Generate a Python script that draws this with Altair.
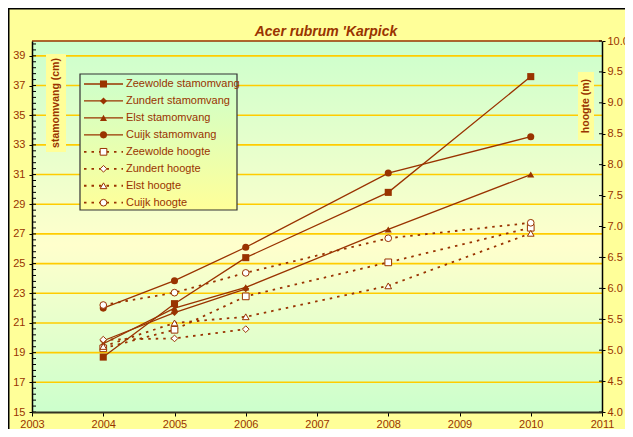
import altair as alt
import pandas as pd
import numpy as np

BROWN = "#993300"
FONT = "Liberation Sans"
W, H = 570, 371

title_text = "Acer rubrum 'Karpick"
sites = ["Zeewolde", "Zundert", "Elst", "Cuijk"]
site_shapes = ["square", "diamond", "triangle-up", "circle"]

zeewolde_years = [2004, 2005, 2006, 2008, 2010]
zeewolde_stam = [18.7, 22.3, 25.4, 29.8, 37.6]
zeewolde_hoogte = [5.03, 5.33, 5.87, 6.42, 6.98]

zundert_years = [2004, 2005, 2006]
zundert_stam = [19.8, 21.7, 23.3]
zundert_hoogte = [5.17, 5.19, 5.34]

elst_years = [2004, 2005, 2006, 2008, 2010]
elst_stam = [19.6, 22.0, 23.4, 27.3, 31.0]
elst_hoogte = [5.06, 5.44, 5.54, 6.04, 6.89]

cuijk_years = [2004, 2005, 2006, 2008, 2010]
cuijk_stam = [22.0, 23.85, 26.1, 31.1, 33.55]
cuijk_hoogte = [5.73, 5.93, 6.25, 6.81, 7.06]

x_ticks = [2003, 2004, 2005, 2006, 2007, 2008, 2009, 2010, 2011]
left_ticks = [15, 17, 19, 21, 23, 25, 27, 29, 31, 33, 35, 37, 39]
grid_values = [17, 19, 21, 23, 25, 27, 29, 31, 33, 35, 37, 39]
left_minor = [round(v, 1) for v in np.arange(15.0, 40.01, 0.4)]
right_ticks = [4.0, 4.5, 5.0, 5.5, 6.0, 6.5, 7.0, 7.5, 8.0, 8.5, 9.0, 9.5, 10.0]

legend_labels = ["Zeewolde stamomvang", "Zundert stamomvang", "Elst stamomvang", "Cuijk stamomvang",
                 "Zeewolde hoogte", "Zundert hoogte", "Elst hoogte", "Cuijk hoogte"]
legend_sites = sites + sites
legend_kind = ["stam"] * 4 + ["hoogte"] * 4

stam_rows, hoog_rows = [], []
for s, yrs, st, ho in [("Zeewolde", zeewolde_years, zeewolde_stam, zeewolde_hoogte),
                       ("Zundert", zundert_years, zundert_stam, zundert_hoogte),
                       ("Elst", elst_years, elst_stam, elst_hoogte),
                       ("Cuijk", cuijk_years, cuijk_stam, cuijk_hoogte)]:
    for y, a, b in zip(yrs, st, ho):
        stam_rows.append({"site": s, "year": y, "value": a})
        hoog_rows.append({"site": s, "year": y, "value": b})
stam_df = pd.DataFrame(stam_rows)
hoog_df = pd.DataFrame(hoog_rows)
legend_df = pd.DataFrame({"label": legend_labels, "site": legend_sites, "kind": legend_kind,
                          "row": list(range(8))})
one = pd.DataFrame({"a": [0]})

x_scale = alt.Scale(domain=[2003, 2011], nice=False, zero=False)
left_scale = alt.Scale(domain=[15, 40], nice=False, zero=False)
right_scale = alt.Scale(domain=[4, 10], nice=False, zero=False)
shape_scale = alt.Scale(domain=sites, range=site_shapes)
legend_scale = alt.Scale(domain=[0, 7], range=[43, 161.7])

common_axis = dict(labelFont=FONT, labelFontSize=11, labelColor=BROWN, tickColor="black",
                   domainColor="black", domainWidth=1.5, grid=False, title=None, zindex=1,
                   labelFlush=False)
x_axis = alt.Axis(values=x_ticks, format="d", tickSize=4, labelPadding=2,
                  **{**common_axis, "domainColor": "#333322", "domainWidth": 2})
left_axis = alt.Axis(values=left_ticks, tickSize=3, labelPadding=4, orient="left", **common_axis)
right_axis = alt.Axis(values=right_ticks, format=".1f", tickSize=3, labelPadding=2, orient="right",
                      **common_axis)

plot_grad = {"gradient": "linear", "x1": 0, "y1": 0, "x2": 0, "y2": 1,
             "stops": [{"offset": 0, "color": "#CCFFCC"}, {"offset": 0.55, "color": "#FFFFCC"},
                       {"offset": 1, "color": "#CCFFCC"}]}
legend_grad = {"gradient": "linear", "x1": 0, "y1": 0, "x2": 0, "y2": 1,
               "stops": [{"offset": 0, "color": "#CCFFCC"}, {"offset": 1, "color": "#FFFF99"}]}

X = alt.X("year:Q", scale=x_scale, axis=x_axis)

bg = alt.Chart(one).mark_rect(fill=plot_grad).encode(
    x=alt.value(0), x2=alt.value("width"), y=alt.value(0), y2=alt.value("height"))
grid = alt.Chart(pd.DataFrame({"v": grid_values})).mark_rule(color="#FFCC00", strokeWidth=1.6).encode(
    y=alt.Y("v:Q", scale=left_scale, axis=None), x=alt.value(0), x2=alt.value("width"))
minor = alt.Chart(pd.DataFrame({"v": left_minor})).mark_rule(color="black", strokeWidth=1).encode(
    y=alt.Y("v:Q", scale=left_scale, axis=None), x=alt.value(0), x2=alt.value(4))
top_border = alt.Chart(one).mark_rule(color=BROWN, strokeWidth=1.5).encode(
    x=alt.value(0), x2=alt.value("width"), y=alt.value(0))
stam_lines = alt.Chart(stam_df).mark_line(color=BROWN, strokeWidth=1.3).encode(
    x=X, y=alt.Y("value:Q", scale=left_scale, axis=left_axis), detail="site:N")
stam_pts = alt.Chart(stam_df).mark_point(filled=True, color=BROWN, size=50, opacity=1).encode(
    x=X, y=alt.Y("value:Q", scale=left_scale, axis=None),
    shape=alt.Shape("site:N", scale=shape_scale, legend=None))

right_inner = alt.Chart(pd.DataFrame({"v": right_ticks})).mark_rule(color="black", strokeWidth=1).encode(
    y=alt.Y("v:Q", scale=right_scale, axis=None), x=alt.value(W - 3), x2=alt.value(W))
hoog_lines = alt.Chart(hoog_df).mark_line(color=BROWN, strokeWidth=1.8, strokeDash=[2.5, 5]).encode(
    x=X, y=alt.Y("value:Q", scale=right_scale, axis=right_axis), detail="site:N")
hoog_pts = alt.Chart(hoog_df).mark_point(filled=True, fill="white", stroke=BROWN, strokeWidth=1,
                                         size=45, opacity=1).encode(
    x=X, y=alt.Y("value:Q", scale=right_scale, axis=None),
    shape=alt.Shape("site:N", scale=shape_scale, legend=None))

LY = alt.Y("row:Q", scale=legend_scale, axis=None)
leg_bg = alt.Chart(one).mark_rect(fill=legend_grad, stroke="#333333", strokeWidth=1.2).encode(
    x=alt.value(48), x2=alt.value(205), y=alt.value(33), y2=alt.value(169))
leg_solid = alt.Chart(legend_df[legend_df.kind == "stam"]).mark_rule(color=BROWN, strokeWidth=1.3).encode(
    x=alt.value(52), x2=alt.value(91), y=LY)
leg_dash = alt.Chart(legend_df[legend_df.kind == "hoogte"]).mark_rule(
    color=BROWN, strokeWidth=1.8, strokeDash=[2.5, 5]).encode(x=alt.value(52), x2=alt.value(91), y=LY)
leg_fpts = alt.Chart(legend_df[legend_df.kind == "stam"]).mark_point(
    filled=True, color=BROWN, size=50, opacity=1).encode(
    x=alt.value(71.5), y=LY, shape=alt.Shape("site:N", scale=shape_scale, legend=None))
leg_opts = alt.Chart(legend_df[legend_df.kind == "hoogte"]).mark_point(
    filled=True, fill="white", stroke=BROWN, strokeWidth=1, size=45, opacity=1).encode(
    x=alt.value(71.5), y=LY, shape=alt.Shape("site:N", scale=shape_scale, legend=None))
leg_text = alt.Chart(legend_df).mark_text(align="left", baseline="middle", font=FONT, fontSize=11,
                                          color=BROWN).encode(x=alt.value(94), y=LY, text="label:N")

ltitle_box = alt.Chart(one).mark_rect(fill="#FFFF99").encode(
    x=alt.value(14), x2=alt.value(34), y=alt.value(13), y2=alt.value(111))
ltitle = alt.Chart(one).mark_text(text="stamomvang (cm)", angle=270, font=FONT, fontSize=10.5,
                                  fontWeight="bold", color=BROWN, align="center", baseline="middle").encode(
    x=alt.value(24), y=alt.value(62))
rtitle_box = alt.Chart(one).mark_rect(fill="#FFFF99").encode(
    x=alt.value(546), x2=alt.value(562), y=alt.value(31), y2=alt.value(99))
rtitle = alt.Chart(one).mark_text(text="hoogte (m)", angle=270, font=FONT, fontSize=10.5,
                                  fontWeight="bold", color=BROWN, align="center", baseline="middle").encode(
    x=alt.value(554), y=alt.value(65))
main_title = alt.Chart(one).mark_text(text=title_text, font=FONT, fontSize=14, fontStyle="italic",
                                      fontWeight="bold", color=BROWN, align="center",
                                      baseline="middle").encode(x=alt.value(294), y=alt.value(-9))
frame = alt.Chart(one).mark_rect(fill="transparent", stroke="black", strokeWidth=3).encode(
    x=alt.value(-24), x2=alt.value(800), y=alt.value(-33), y2=alt.value(600))

chart = alt.layer(
    bg, grid, minor, top_border, stam_lines, stam_pts,
    right_inner, hoog_lines, hoog_pts,
    ltitle_box, ltitle, rtitle_box, rtitle,
    leg_bg, leg_solid, leg_dash, leg_fpts, leg_opts, leg_text,
    main_title, frame,
).resolve_scale(y="independent").properties(
    width=W, height=H,
    padding={"left": 24, "top": 33, "right": 23, "bottom": 17},
    autosize=alt.AutoSizeParams(type="none"),
    background="#FFFF99",
).configure_view(stroke=None)

chart.save("out.html", embed_options={"renderer": "svg", "actions": False})
